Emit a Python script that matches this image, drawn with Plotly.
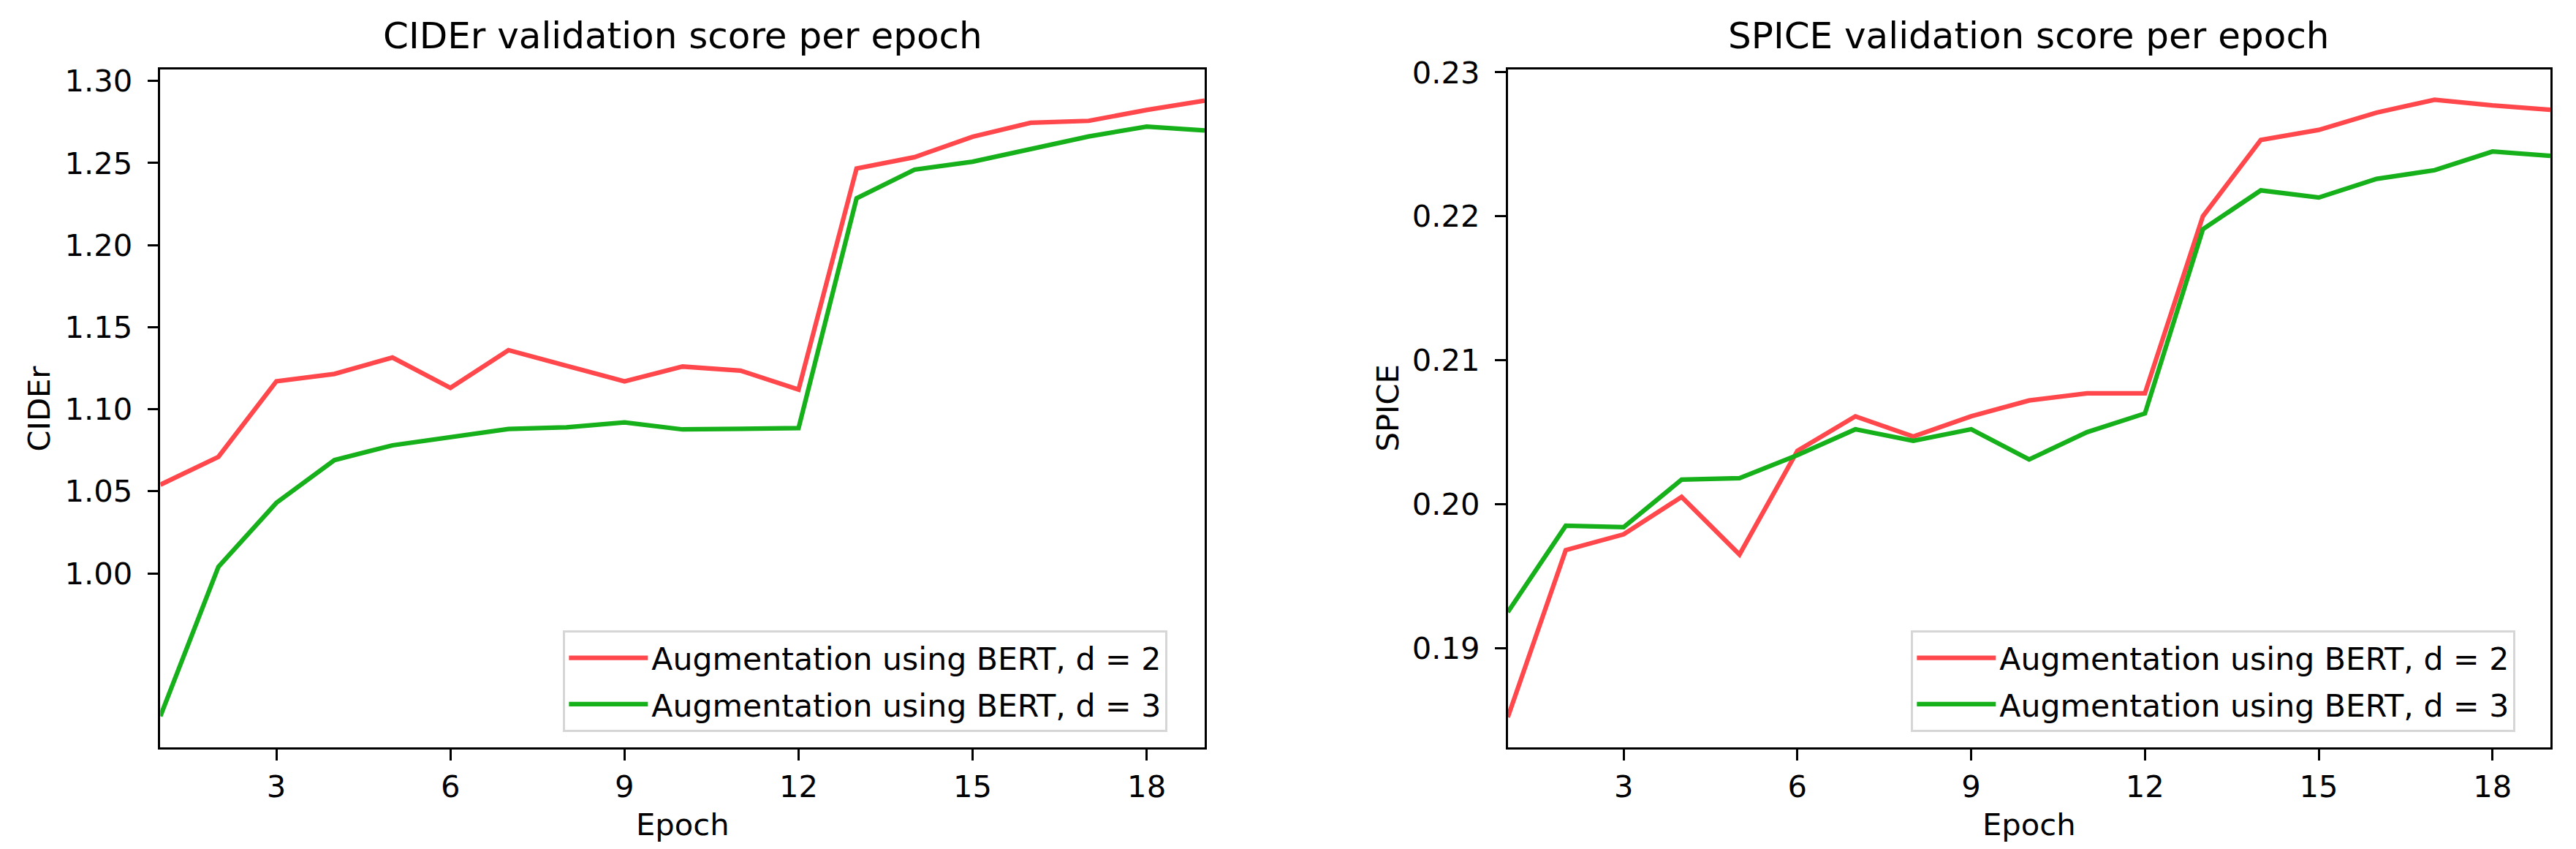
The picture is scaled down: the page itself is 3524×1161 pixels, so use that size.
import plotly.graph_objects as go

# ---- data ----
epochs = list(range(1, 20))
cider_d2 = [1.054, 1.071, 1.117, 1.1215, 1.1315, 1.113, 1.136, 1.1265, 1.117, 1.126,
            1.1235, 1.112, 1.2467, 1.2536, 1.266, 1.2745, 1.2757, 1.2823, 1.288]
cider_d3 = [0.913, 1.004, 1.043, 1.069, 1.078, 1.083, 1.088, 1.089, 1.092, 1.0877,
            1.0878, 1.0885, 1.2285, 1.246, 1.2508, 1.2583, 1.2662, 1.2722, 1.2699]
spice_d2 = [0.1852, 0.1968, 0.1979, 0.2005, 0.1965, 0.2037, 0.2061, 0.2047, 0.2061, 0.2072,
            0.2077, 0.2077, 0.2200, 0.2253, 0.2260, 0.2272, 0.2281, 0.2277, 0.2274]
spice_d3 = [0.1925, 0.1985, 0.1984, 0.2017, 0.2018, 0.2034, 0.2052, 0.2044, 0.2052, 0.2031,
            0.2050, 0.2063, 0.2191, 0.2218, 0.2213, 0.2226, 0.2232, 0.2245, 0.2242]
series_names = ["Augmentation using BERT, d = 2", "Augmentation using BERT, d = 3"]
x_ticks = [3, 6, 9, 12, 15, 18]
cider_ticks = [1.00, 1.05, 1.10, 1.15, 1.20, 1.25, 1.30]
spice_ticks = [0.19, 0.20, 0.21, 0.22, 0.23]
titles = ["CIDEr validation score per epoch", "SPICE validation score per epoch"]
ylabels = ["CIDEr", "SPICE"]
xlabel = "Epoch"

RED = "#ff474c"
GREEN = "#15b01a"
W, H = 3524, 1161
FONT = "DejaVu Sans"
TICK = 41.7
LW = 6.25
AX_LW = 3.33

fig = go.Figure()
for xa, ya, lg, ys in [("x", "y", "legend", [cider_d2, cider_d3]),
                       ("x2", "y2", "legend2", [spice_d2, spice_d3])]:
    for i, (vals, col) in enumerate(zip(ys, [RED, GREEN])):
        fig.add_trace(go.Scatter(x=epochs, y=vals, mode="lines", name=series_names[i],
                                 line=dict(color=col, width=LW), xaxis=xa, yaxis=ya,
                                 legend=lg, legendgroup=f"{lg}_{i}"))

def px_x(p):
    return p / W

def px_y(p):
    return (H - p) / H

common_axis = dict(showline=True, mirror=True, linewidth=AX_LW, linecolor="black",
                   ticks="outside", ticklen=14.6, tickwidth=AX_LW, tickcolor="black",
                   showgrid=False, zeroline=False, automargin=False,
                   tickfont=dict(family=FONT, size=TICK, color="black"))

dom1 = [px_x(211.4), px_x(1640)]
dom2 = [px_x(2054.7), px_x(3481)]
ydom = [px_y(1014), px_y(87)]

legend_style = dict(xanchor="left", yanchor="top", y=px_y(854),
                    bgcolor="rgba(255,255,255,0.8)", bordercolor="#d6d6d6", borderwidth=AX_LW,
                    itemwidth=108, tracegroupgap=5,
                    font=dict(family=FONT, size=42.6, color="black"))

fig.update_layout(
    template="none",
    width=W, height=H, autosize=False,
    margin=dict(l=0, r=0, t=0, b=0),
    paper_bgcolor="white", plot_bgcolor="white",
    font=dict(family=FONT, color="black"),
    xaxis=dict(domain=dom1, range=[1, 19], tickvals=x_ticks, anchor="y", **common_axis),
    yaxis=dict(domain=ydom, range=[0.894, 1.307], tickvals=cider_ticks, tickformat=".2f",
               anchor="x", ticklabelstandoff=12, **common_axis),
    xaxis2=dict(domain=dom2, range=[1, 19], tickvals=x_ticks, anchor="y2", **common_axis),
    yaxis2=dict(domain=ydom, range=[0.1831, 0.2302], tickvals=spice_ticks, tickformat=".2f",
                anchor="x2", ticklabelstandoff=12, **common_axis),
    legend=dict(x=px_x(762), **legend_style),
    legend2=dict(x=px_x(2606), **legend_style),
    showlegend=True,
)

annots = []
for dom, t in zip([dom1, dom2], titles):
    annots.append(dict(text=t, x=(dom[0] + dom[1]) / 2, y=px_y(72), xref="paper", yref="paper",
                       xanchor="center", yanchor="bottom", showarrow=False,
                       font=dict(family=FONT, size=50, color="black")))
    annots.append(dict(text=xlabel, x=(dom[0] + dom[1]) / 2, y=px_y(1093), xref="paper", yref="paper",
                       xanchor="center", yanchor="top", showarrow=False,
                       font=dict(family=FONT, size=TICK, color="black")))
for xc, lab in zip([45, 1890], ylabels):
    annots.append(dict(text=lab, x=px_x(xc), y=(ydom[0] + ydom[1]) / 2, xref="paper", yref="paper",
                       xanchor="center", yanchor="middle", textangle=-90, showarrow=False,
                       font=dict(family=FONT, size=TICK, color="black")))
fig.update_layout(annotations=annots)

fig.write_html("out.html")
